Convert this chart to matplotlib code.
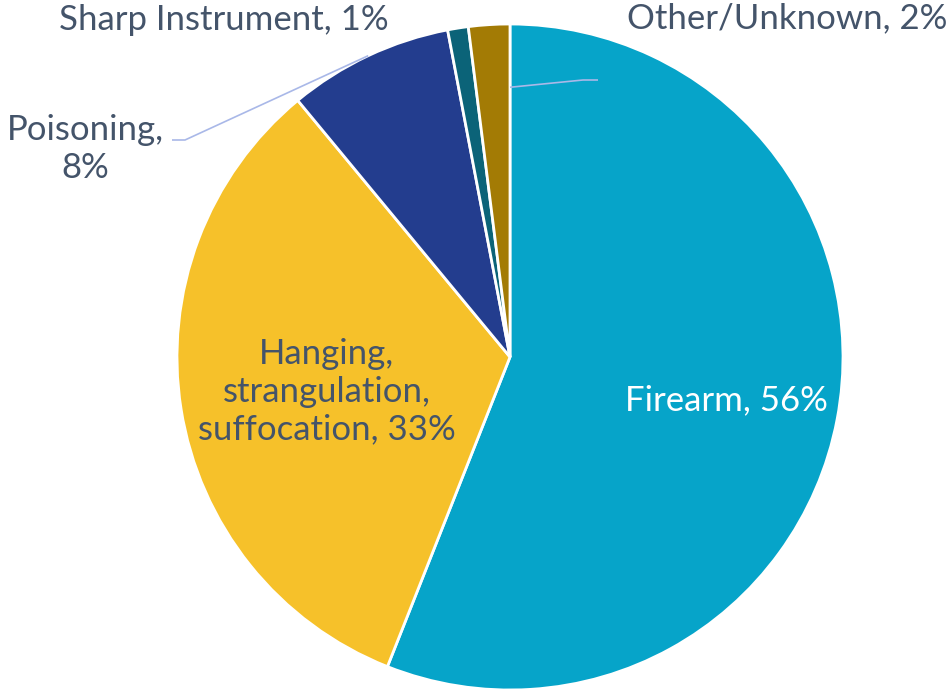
import numpy as np
import matplotlib
matplotlib.use("Agg")
import matplotlib.pyplot as plt

# Suicide methods, share of deaths (%)
categories = ["Firearm", "Hanging, strangulation, suffocation", "Poisoning",
              "Sharp Instrument", "Other/Unknown"]
shares = [56, 33, 8, 1, 2]
label_texts = ["Firearm, 56%", "Hanging,\nstrangulation,\nsuffocation, 33%",
               "Poisoning,\n8%", "Sharp Instrument, 1%", "Other/Unknown, 2%"]
colors = ["#06A4C9", "#F6C12A", "#233D8E", "#0B6378", "#A37B05"]

W, H = 951, 691
fig = plt.figure(figsize=(W / 100, H / 100), dpi=100)
ax = fig.add_axes([0, 0, 1, 1])

cx, cy, r = 510, H - 357, 333
ax.pie(shares, colors=colors, startangle=90, counterclock=False,
       center=(cx, cy), radius=r, frame=True,
       wedgeprops=dict(edgecolor="white", linewidth=2.0))
ax.set_xlim(0, W)
ax.set_ylim(0, H)
ax.set_aspect("equal")
ax.axis("off")

txt_color = "#44546A"
font = ["Lato", "DejaVu Sans"]
fs = 25

# Label anchor positions (centre of each text block, in pixels from top-left)
label_pos = [(726, 400), (327, 392), (85, 149), (224, 20), (787, 18)]
label_colors = ["white", txt_color, txt_color, txt_color, txt_color]
for text, (x, y), c in zip(label_texts, label_pos, label_colors):
    ax.text(x, H - y, text, ha="center", va="center", fontsize=fs,
            color=c, family=font, linespacing=1.22)

# Leader lines from outside labels to their slices
lead_color = "#A9B8E8"
bounds = np.cumsum([0] + shares) / sum(shares)
def angle_at(frac):
    return np.deg2rad(90 - 360 * frac)

# Poisoning: label -> middle of slice edge
a = angle_at((bounds[2] + bounds[3]) / 2)
px, py = cx + r * np.cos(a), cy + r * np.sin(a)
ax.plot([172, 185, px], [H - 140, H - 140, py], color=lead_color, lw=1.2,
        solid_capstyle="butt")

# Other/Unknown: label -> slice boundary
a = angle_at(bounds[5])
ox, oy = cx + 0.81 * r * np.cos(a), cy + 0.81 * r * np.sin(a)
ax.plot([598, 583, ox], [H - 80, H - 80, oy], color=lead_color, lw=1.2,
        solid_capstyle="butt")

fig.savefig("out.png", dpi=100)
